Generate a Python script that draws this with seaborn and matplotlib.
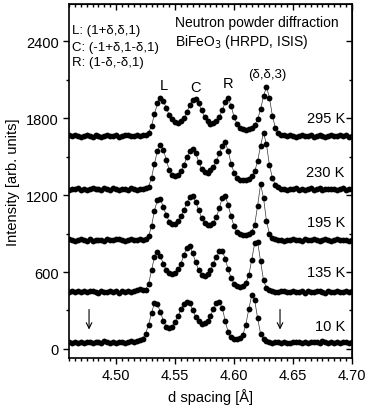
import numpy as np
import pandas as pd
import seaborn as sns
import matplotlib.pyplot as plt
from matplotlib.ticker import MultipleLocator

# d grid of the measured points
d_start, d_step, n_pts = 4.46, 0.0025, 97
d_spacing = np.round(d_start + d_step * np.arange(n_pts), 4)

temps = ["295 K", "230 K", "195 K", "135 K", "10 K"]
offsets = [1660, 1245, 848, 445, 50]

# intensity above each offset
i_295 = [5, -3, 8, 2, -6, 4, 10, 3, -4, 6, 0, -8, 3, 9, 2, -2, 7, -5, 4, 12, 6, -3, 2, 8, 0, 5, 10,
         25, 80, 170, 255, 300, 275, 220, 165, 130, 110, 105, 115, 140, 185, 245, 280, 290, 255, 200,
         150, 115, 95, 100, 115, 150, 200, 265, 300, 235, 150, 95, 65, 55, 50, 55, 65, 85, 130, 210,
         310, 385, 300, 160, 65, 25, 10,
         5, -2, 8, 0, -6, 4, 7, -3, 2, 9, -4, 3, 6, -1, -7, 4, 8, 2, -3, 5, 0, 7, -5, 3]
i_230 = [-4, 6, 2, 10, -2, 5, -6, 3, 8, 0, 4, -5, 7, 2, -3, 9, 1, -6, 5, 3, -2, 8, 4, -4, 6, 2, 8,
         20, 90, 200, 300, 345, 310, 230, 150, 110, 100, 110, 140, 190, 250, 295, 315, 280, 215, 160,
         135, 130, 150, 175, 220, 280, 340, 365, 300, 200, 130, 90, 75, 70, 72, 80, 100, 140, 220, 340,
         440, 350, 190, 90, 35, 15, 5,
         3, -5, 6, 0, 8, -3, 2, -6, 5, 9, -2, 1, 7, -4, 3, 6, -1, 4, -7, 2, 8, -3, 5, 0]
i_195 = [6, 0, -5, 4, 9, 2, -3, 7, -6, 3, 5, 0, -4, 8, 2, -2, 6, 10, 1, -5, 4, 7, -1, 3, 9, 5, 12,
         30, 110, 230, 315, 320, 260, 195, 145, 125, 130, 150, 185, 235, 290, 335, 345, 300, 235, 175,
         135, 115, 115, 135, 180, 250, 330, 345, 275, 185, 110, 65, 45, 38, 40, 48, 65, 120, 270, 435,
         330, 150, 50, 20, 8, 5, 3,
         -3, 5, 1, 8, -2, 4, -6, 6, 2, -1, 7, 3, -4, 5, 9, 0, -5, 3, 6, -2, 4, 1, -3, 2]
i_135 = [2, 8, -4, 5, 0, 7, -3, 4, 10, 1, -5, 6, 3, -2, 8, 0, 4, -6, 5, 2, 9, -1, 6, 14, 20, 12, 18,
         60, 170, 270, 310, 280, 220, 170, 145, 140, 150, 175, 220, 290, 345, 355, 300, 230, 170, 135,
         125, 140, 170, 220, 275, 315, 320, 260, 175, 110, 65, 45, 40, 48, 70, 130, 250, 380, 390, 240,
         90, 30, 12, 6, 2, 0, 4,
         6, -2, 3, 8, -4, 1, 5, -6, 7, 2, -3, 4, 9, 0, -5, 6, 3, -2, 8, 1, -4, 5, 2, 7]
i_10 = [4, -3, 7, 0, 5, -5, 2, 8, -2, 6, 1, -4, 9, 3, -1, 5, -6, 4, 8, 0, 3, 10, 6, 12, 18, 30, 70,
        140, 230, 310, 300, 240, 170, 125, 110, 125, 160, 205, 260, 300, 320, 305, 255, 200, 165, 145,
        150, 170, 210, 260, 305, 315, 270, 170, 80, 40, 30, 28, 35, 60, 140, 260, 370, 330, 190, 70,
        25, 10, 4, 0, 6, 2, -3,
        5, 0, -4, 6, 2, 8, -2, 3, -5, 7, 1, 4, -3, 9, 2, -1, 5, 0, 6, -4, 3, 8, -2, 4]
profiles = [i_295, i_230, i_195, i_135, i_10]
temp_label_y = [1800, 1380, 990, 600, 180]

peak_names = ["L", "C", "R", "(δ,δ,3)"]
peak_pos = [4.540, 4.567, 4.595, 4.628]
peak_label_y = [2005, 1990, 2020, 2100]

arrow_pos = [4.477, 4.639]

sns.set_style("ticks")
plt.rcParams['font.family'] = ['Liberation Sans', 'DejaVu Sans']
plt.rcParams.update({"text.color": "black", "axes.labelcolor": "black",
                     "xtick.color": "black", "ytick.color": "black",
                     "axes.edgecolor": "black"})

fig = plt.figure(figsize=(3.74, 4.14), dpi=100)
ax = fig.add_axes([0.1845, 0.133, 0.7565, 0.855])

for t, off, prof in zip(temps, offsets, profiles):
    df = pd.DataFrame({"d": d_spacing, "I": np.array(prof) + off})
    sns.lineplot(data=df, x="d", y="I", ax=ax, color="#333333", lw=0.5, sort=False,
                 estimator=None, marker="o", markersize=4.2, markeredgewidth=0,
                 markerfacecolor="black")

for t, y in zip(temps, temp_label_y):
    ax.text(4.694, y, t, ha="right", va="center", fontsize=10.5)
for name, x, y in zip(peak_names, peak_pos, peak_label_y):
    ax.text(x, y, name, ha="center", va="bottom", fontsize=10.5 if len(name) == 1 else 9.5)
for x in arrow_pos:
    ax.annotate("", xy=(x, 130), xytext=(x, 330),
                arrowprops=dict(arrowstyle="->", lw=0.8, color="black"))

ax.text(0.012, 0.927, "L: (1+δ,δ,1)", transform=ax.transAxes, fontsize=9.5, va="center")
ax.text(0.012, 0.879, "C: (-1+δ,1-δ,1)", transform=ax.transAxes, fontsize=9.5, va="center")
ax.text(0.012, 0.836, "R: (1-δ,-δ,1)", transform=ax.transAxes, fontsize=9.5, va="center")
ax.text(0.375, 0.949, "Neutron powder diffraction", transform=ax.transAxes, fontsize=10, va="center")
ax.text(0.375, 0.895, "BiFeO$_3$ (HRPD, ISIS)", transform=ax.transAxes, fontsize=10, va="center")

ax.set_xlim(4.46, 4.70)
ax.set_ylim(-70, 2690)
ax.set_xticks([4.50, 4.55, 4.60, 4.65, 4.70])
ax.set_xticklabels(["4.50", "4.55", "4.60", "4.65", "4.70"])
ax.set_yticks([0, 600, 1200, 1800, 2400])
ax.xaxis.set_minor_locator(MultipleLocator(0.005))
ax.yaxis.set_minor_locator(MultipleLocator(300))
ax.tick_params(which="both", direction="out", labelsize=10.5, width=1)
ax.tick_params(which="major", length=4)
ax.tick_params(which="minor", length=2.5)
ax.set_xlabel("d spacing [Å]", fontsize=10.5)
ax.set_ylabel("Intensity [arb. units]", fontsize=10.5)

top = ax.secondary_xaxis("top")
top.set_xticks([4.50, 4.55, 4.60, 4.65, 4.70])
top.xaxis.set_minor_locator(MultipleLocator(0.005))
top.tick_params(which="both", direction="in", labeltop=False, width=1)
top.tick_params(which="major", length=4)
top.tick_params(which="minor", length=2.5)
right = ax.secondary_yaxis("right")
right.set_yticks([0, 600, 1200, 1800, 2400])
right.yaxis.set_minor_locator(MultipleLocator(300))
right.tick_params(which="both", direction="in", labelright=False, width=1)
right.tick_params(which="major", length=4)
right.tick_params(which="minor", length=2.5)

for s in ax.spines.values():
    s.set_linewidth(1.2)

fig.savefig("out.png", dpi=100)
